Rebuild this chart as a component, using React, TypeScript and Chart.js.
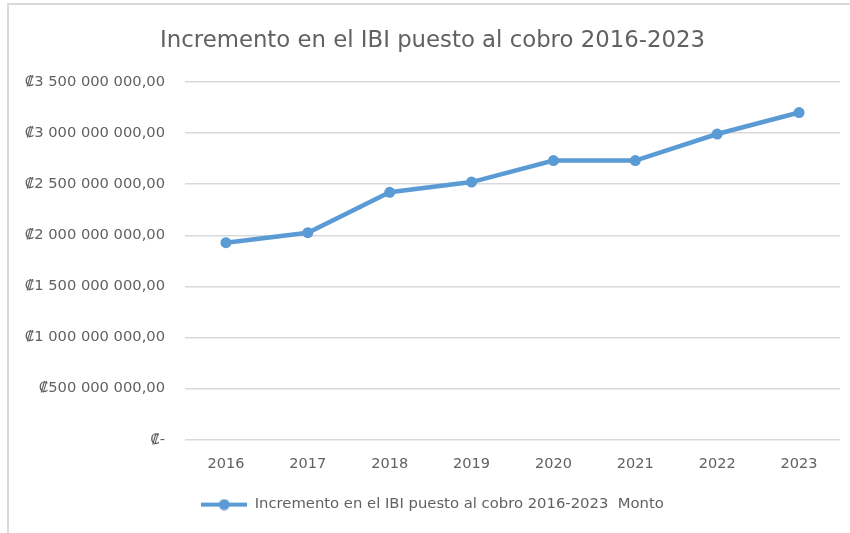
import React, { useEffect, useRef } from "react";
import { Chart, registerables } from "chart.js";

Chart.register(...registerables);

const chartTitle = "Incremento en el IBI puesto al cobro 2016-2023";
const seriesLabel = "Incremento en el IBI puesto al cobro 2016-2023  Monto";
const years = ["2016", "2017", "2018", "2019", "2020", "2021", "2022", "2023"];
const montos = [1927000000, 2025000000, 2420000000, 2520000000, 2730000000, 2730000000, 2990000000, 3200000000];
const yMin = 0;
const yMax = 3500000000;
const yStep = 500000000;

const FONT = "'DejaVu Sans', sans-serif";
const TEXT = "#616161";
const GRID = "#d9d9d9";
const BLUE = "#5B9BD5";

function formatColon(v: number): string {
  if (v === 0) return "₡-";
  const s = Math.round(v).toString().replace(/\B(?=(\d{3})+(?!\d))/g, " ");
  return "₡" + s + ",00";
}

function makeLegendImage(): HTMLCanvasElement {
  const c = document.createElement("canvas");
  c.width = 46;
  c.height = 12;
  const ctx = c.getContext("2d")!;
  ctx.strokeStyle = BLUE;
  ctx.lineWidth = 4;
  ctx.beginPath();
  ctx.moveTo(0, 6);
  ctx.lineTo(46, 6);
  ctx.stroke();
  ctx.fillStyle = BLUE;
  ctx.beginPath();
  ctx.arc(23, 6, 5.5, 0, Math.PI * 2);
  ctx.fill();
  return c;
}

export default function App() {
  const ref = useRef<HTMLCanvasElement | null>(null);

  useEffect(() => {
    document.body.style.margin = "0";
    const canvas = ref.current;
    if (!canvas) return;
    const legendImg = makeLegendImage();
    const chart = new Chart(canvas, {
      type: "line",
      data: {
        labels: years,
        datasets: [
          {
            label: seriesLabel,
            data: montos,
            borderColor: BLUE,
            backgroundColor: BLUE,
            borderWidth: 4.5,
            pointRadius: 5.5,
            pointHoverRadius: 5.5,
            pointBackgroundColor: BLUE,
            pointBorderColor: BLUE,
            pointBorderWidth: 0,
            tension: 0,
          },
        ],
      },
      options: {
        responsive: false,
        animation: false,
        layout: { padding: { left: 25, right: 10, top: 27, bottom: 11 } },
        plugins: {
          title: {
            display: true,
            text: chartTitle,
            color: TEXT,
            font: { family: FONT, size: 22.8, weight: "normal" },
            padding: { top: 0, bottom: 27.5 },
          },
          legend: {
            display: true,
            position: "bottom",
            labels: {
              usePointStyle: true,
              pointStyle: legendImg as any,
              pointStyleWidth: 46,
              color: TEXT,
              font: { family: FONT, size: 14.8 },
              padding: 8,
            },
          },
          tooltip: { enabled: false },
        },
        scales: {
          x: {
            offset: true,
            grid: { display: false, drawTicks: false },
            border: { display: false },
            ticks: { color: TEXT, font: { family: FONT, size: 14.5 }, padding: 16 },
          },
          y: {
            min: yMin,
            max: yMax,
            afterFit: (s: any) => {
              s.width = 160;
            },
            grid: { color: GRID, lineWidth: 1.5, drawTicks: false },
            border: { display: false },
            ticks: {
              stepSize: yStep,
              color: TEXT,
              font: { family: FONT, size: 14.7 },
              padding: 20,
              callback: (v: any) => formatColon(Number(v)),
            },
          },
        },
      },
    });
    return () => chart.destroy();
  }, []);

  return (
    <div style={{ position: "relative", width: 850, height: 533, background: "#fff", overflow: "hidden" }}>
      <div
        style={{
          position: "absolute",
          left: 7,
          top: 3,
          width: 900,
          height: 600,
          borderTop: "2px solid #d9d9d9",
          borderLeft: "2px solid #d9d9d9",
          boxSizing: "border-box",
        }}
      />
      <canvas ref={ref} width={850} height={533} style={{ position: "absolute", left: 0, top: 0 }} />
    </div>
  );
}
